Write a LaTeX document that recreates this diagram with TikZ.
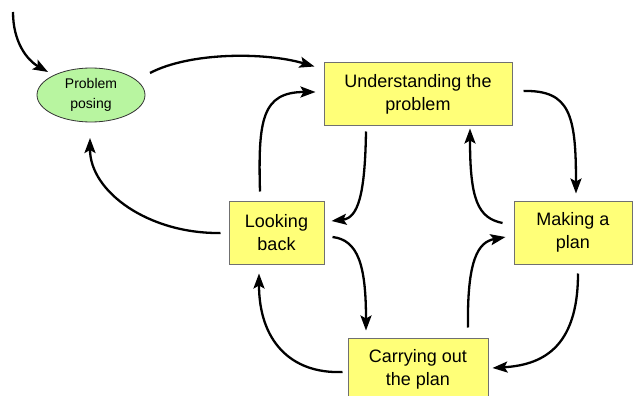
\documentclass[tikz,border=0pt]{standalone}
\usepackage{fontspec}
\setmainfont{Liberation Sans}
\usetikzlibrary{shapes.geometric,arrows.meta}
\definecolor{boxyellow}{HTML}{FFFF78}
\definecolor{ellgreen}{HTML}{B8F5A0}
\definecolor{boxborder}{HTML}{707070}
\begin{document}
\begin{tikzpicture}[x=1pt,y=-1pt,
  stepbox/.style={draw=boxborder, line width=1pt, fill=boxyellow, minimum height=63pt, inner sep=0pt, align=center, font=\fontsize{18}{23}\selectfont},
  posebox/.style={ellipse, draw=black!80, line width=0.8pt, fill=ellgreen, minimum width=108pt, minimum height=54pt, inner sep=0pt, align=center, font=\fontsize{14}{20}\selectfont},
  arr/.style={line width=2.3pt, -{Stealth[length=15pt,width=11pt,inset=3pt]}}]
\useasboundingbox (0,0) rectangle (633,396);

\node[posebox] (pp) at (91,95) {Problem\\posing};
\node[stepbox, minimum width=188pt] (ut) at (418,94.5) {Understanding the\\problem};
\node[stepbox, minimum width=95pt] (lb) at (276.5,232.5) {Looking\\back};
\node[stepbox, minimum width=118pt] (mp) at (573,232.5) {Making a\\plan};
\node[stepbox, minimum width=140pt] (co) at (418,369.5) {Carrying out\\the plan};

\coordinate (src) at (13,12);

% 1 incoming to problem posing
\draw[arr] (src) .. controls (13,42) and (27,60) .. ([shift={(-43,-23)}]pp.center);
% 2 problem posing -> understanding
\draw[arr] ([shift={(59,-22)}]pp.center) .. controls (190,52) and (265,52) .. ([shift={(-9,4)}]ut.north west);
% 3 looking back -> understanding
\draw[arr] ([shift={(-16.5,-9)}]lb.north) .. controls (258,120) and (262,92) .. ([shift={(-8,-2.5)}]ut.west);
% 4 looking back -> problem posing
\draw[arr] ([shift={(-8,0.5)}]lb.west) .. controls (149,234) and (90,192) .. ([shift={(-1,43)}]pp.center);
% 5 understanding -> looking back
\draw[arr] ([shift={(-52,5)}]ut.south) .. controls (365,195) and (358,218) .. ([shift={(7,-11.5)}]lb.east);
% 6 making a plan -> understanding
\draw[arr] ([shift={(-11,-9.5)}]mp.west) .. controls (478,218) and (470,200) .. ([shift={(52,2)}]ut.south);
% 7 understanding -> making a plan
\draw[arr] ([shift={(11,-3.5)}]ut.east) .. controls (570,90) and (576,115) .. ([shift={(3,-7)}]mp.north);
% 8 looking back -> carrying out
\draw[arr] ([shift={(8,4.5)}]lb.east) .. controls (358,240) and (366,265) .. ([shift={(-52,-7)}]co.north);
% 9 carrying out -> making a plan
\draw[arr] ([shift={(50,-10)}]co.north) .. controls (467,260) and (478,242) .. ([shift={(-8,4.5)}]mp.west);
% 10 making a plan -> carrying out
\draw[arr] ([shift={(5,9)}]mp.south) .. controls (578,350) and (540,365) .. ([shift={(4,-1.5)}]co.east);
% 11 carrying out -> looking back
\draw[arr] ([shift={(-5,2.5)}]co.west) .. controls (290,374) and (259,340) .. ([shift={(-17.5,9)}]lb.south);
\end{tikzpicture}
\end{document}
